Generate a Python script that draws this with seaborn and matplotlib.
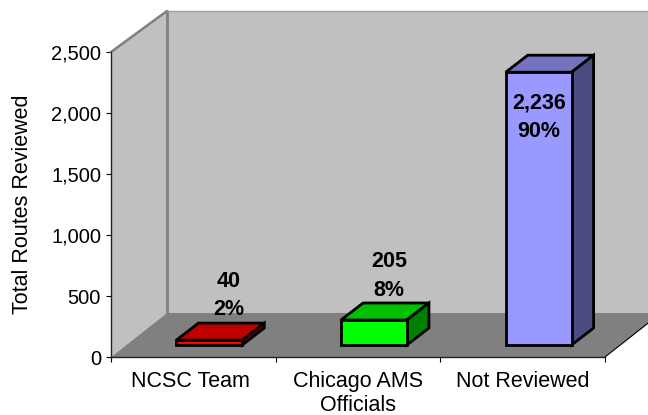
import matplotlib
matplotlib.use("Agg")
import matplotlib.pyplot as plt
from matplotlib.patches import Polygon
from matplotlib.transforms import Affine2D, IdentityTransform
from matplotlib.ticker import FuncFormatter
import numpy as np
import pandas as pd
import seaborn as sns

categories = ["NCSC Team", "Chicago AMS\nOfficials", "Not Reviewed"]
routes = [40, 205, 2236]
shares = ["2%", "8%", "90%"]
front_colors = ["#FF0000", "#00FF00", "#9999FF"]
top_colors = ["#C00000", "#00C000", "#7373BF"]
side_colors = ["#800000", "#008000", "#4C4C80"]
label_offsets = [(35, 57), (31, 56), (16, -33)]
name_nudges = [-3, 0, 0]

sns.set_style("white")
plt.rcParams["font.family"] = ["Liberation Sans", "DejaVu Sans"]

W, H = 648, 415
fig = plt.figure(figsize=(W / 100, H / 100), dpi=100)
ax = fig.add_axes([111 / W, (H - 357) / H, 494 / W, 305 / H])
ax.patch.set_visible(False)

bar_lw = 2.0
df = pd.DataFrame({"category": categories, "routes": routes})
sns.barplot(data=df, x="category", y="routes", hue="category", palette=front_colors,
            order=categories, hue_order=categories, legend=False, dodge=False,
            width=0.4, saturation=1, edgecolor="black", linewidth=bar_lw, ax=ax, zorder=4)
ax.set_xlim(-0.5, 2.5)
ax.set_ylim(0, 2500)

# Room box behind the bars, built from the axes frame pushed back in depth
room_dx, room_dy = 56, 44
fig.canvas.draw()
to_px = ax.transAxes.transform
(x0, y0), (x1, y1) = to_px((0, 0)), to_px((1, 1))
far = 200
top_dy = 41


def add_face(points, face, edge="none", lw=0, z=1):
    ax.add_patch(Polygon(points, closed=True, facecolor=face, edgecolor=edge, linewidth=lw,
                         transform=IdentityTransform(), clip_on=False, zorder=z,
                         joinstyle="miter"))


add_face([(x0 + room_dx, y0 + room_dy), (x0 + room_dx, y1 + top_dy),
          (x1 + far, y1 + top_dy), (x1 + far, y0 + room_dy)], "#C0C0C0", z=1)
add_face([(x0, y0), (x0, y1), (x0 + room_dx, y1 + top_dy), (x0 + room_dx, y0 + room_dy)],
         "#C0C0C0", z=1)
add_face([(x0, y0), (x0 + room_dx, y0 + room_dy), (x1 + room_dx, y0 + room_dy), (x1, y0)],
         "#808080", z=1.5)
add_face([(x1, y0 + 20), (x1 + room_dx, y0 + room_dy), (x1 + far, y0 + room_dy), (x1 + far, y0 + 20)],
         "#808080", z=1.4)
add_face([(x1, y0), (x1 + far * 0.79, y0 + far * 0.79 * room_dy / room_dx),
          (x1 + far, y0 - 1), (x1, y0 - 1)], "white", z=1.45)

edge_gray = "#808080"
ax.plot([x0, x0 + room_dx], [y1, y1 + top_dy], color=edge_gray, lw=1.8,
        transform=IdentityTransform(), clip_on=False, zorder=2)
ax.plot([x0 + room_dx, x0 + room_dx], [y0 + room_dy, y1 + top_dy], color=edge_gray, lw=2.0,
        transform=IdentityTransform(), clip_on=False, zorder=2)
ax.plot([x0 + room_dx, x1 + far], [y1 + top_dy, y1 + top_dy], color="#A0A0A0", lw=1.0,
        transform=IdentityTransform(), clip_on=False, zorder=2)
ax.plot([x1, x1 + room_dx], [y0, y0 + room_dy], color="black", lw=0.8,
        transform=IdentityTransform(), clip_on=False, zorder=2.5)

# Bars stand in the middle of the floor; top and side faces extend each front face
bar_dx, bar_dy = 16, 12
depth_dx, depth_dy = 22, 17
shift = ax.transData + Affine2D().translate(bar_dx, bar_dy)
outline = dict(edge="black", lw=bar_lw, z=3.5)
for bar, top, side in zip(list(ax.patches)[:3], top_colors, side_colors):
    bar.set_transform(shift)
    bar.set_clip_on(False)
    bar.set_joinstyle("miter")
    bx0, by0 = shift.transform((bar.get_x(), 0))
    bx1, by1 = shift.transform((bar.get_x() + bar.get_width(), bar.get_height()))
    add_face([(bx0, by1), (bx1, by1), (bx1 + depth_dx, by1 + depth_dy),
              (bx0 + depth_dx, by1 + depth_dy)], top, **outline)
    add_face([(bx1, by0), (bx1, by1), (bx1 + depth_dx, by1 + depth_dy),
              (bx1 + depth_dx, by0 + depth_dy)], side, **outline)

# Value and share labels
for i, (value, share, offset) in enumerate(zip(routes, shares, label_offsets)):
    ax.annotate(f"{value:,}\n{share}", xy=(i, value), xytext=offset, textcoords="offset pixels",
                ha="center", va="center", fontsize=15.5, fontweight="bold", color="black",
                linespacing=1.45, zorder=6, annotation_clip=False)

# Axes: ticks on category boundaries, names centred between them
ax.set_yticks(np.arange(0, 2501, 500))
ax.yaxis.set_major_formatter(FuncFormatter(lambda v, _: f"{int(v):,}"))
ax.set_xticks([-0.5, 0.5, 1.5, 2.5])
ax.set_xticklabels([])
ax.set_xticks([0, 1, 2], minor=True)
ax.set_xticklabels(categories, minor=True, fontsize=15.5, linespacing=1.2, color="black")
ax.tick_params(axis="x", which="major", length=3.6, width=0.8, color="black", bottom=True)
ax.tick_params(axis="x", which="minor", length=0, pad=10)
ax.tick_params(axis="y", length=3.6, width=0.8, color="black", left=True, labelsize=14.5,
               labelcolor="black", pad=3.6)
for tick, nudge in zip(ax.xaxis.get_minor_ticks(), name_nudges):
    tick.label1.set_transform(tick.label1.get_transform() + Affine2D().translate(nudge, 0))
ax.set_xlabel("")
ax.set_ylabel("Total Routes Reviewed", fontsize=15.5, color="black")
ax.yaxis.set_label_coords((33 - 111) / 494, (357 - 204) / 305)

sns.despine(ax=ax, top=True, right=True)
for name in ("left", "bottom"):
    ax.spines[name].set_color("#222222")
    ax.spines[name].set_linewidth(1.0)
    ax.spines[name].set_zorder(3)

fig.savefig("out.png", dpi=100, facecolor="white")
